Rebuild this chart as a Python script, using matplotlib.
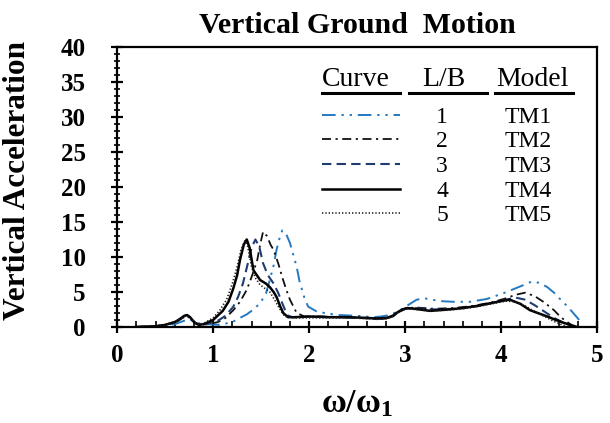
import matplotlib
matplotlib.use("Agg")
import matplotlib.pyplot as plt
from matplotlib.ticker import MultipleLocator

plt.rcParams['font.family'] = ['Liberation Serif', 'DejaVu Serif']
plt.rcParams['mathtext.fontset'] = 'custom'
plt.rcParams['mathtext.bf'] = 'Liberation Serif:bold'
plt.rcParams['mathtext.rm'] = 'Liberation Serif'

# curve data
x_tm1 = [0.2, 0.4, 0.5, 0.6, 0.7, 0.75, 0.8, 0.86, 0.95, 1.07, 1.2, 1.28, 1.35, 1.42, 1.49, 1.55, 1.59,
         1.63, 1.66, 1.69, 1.72, 1.76, 1.8, 1.87, 1.9, 1.95, 1.99, 2.08, 2.2, 2.32, 2.5, 2.67, 2.75,
         2.84, 2.95, 3.05, 3.12, 3.2, 3.28, 3.36, 3.5, 3.68, 3.85, 4.02, 4.2, 4.32, 4.4, 4.48, 4.55,
         4.62, 4.7, 4.75, 4.8, 4.85]
y_tm1 = [0.0, 0.1, 0.2, 0.4, 0.9, 1.1, 0.8, 0.5, 0.4, 0.3, 0.7, 1.3, 1.8, 2.5, 3.4, 4.8, 6.7,
         8.8, 11.0, 12.6, 13.8, 13.3, 12.0, 8.6, 6.5, 4.2, 2.9, 2.2, 1.9, 1.7, 1.6, 1.4, 1.5,
         1.7, 2.4, 3.3, 3.9, 4.1, 3.9, 3.7, 3.6, 3.6, 4.0, 4.8, 5.8, 6.5, 6.3, 5.7, 4.9,
         3.9, 2.8, 2.0, 1.2, 0.4]

x_tm2 = [0.2, 0.4, 0.5, 0.6, 0.66, 0.72, 0.77, 0.82, 0.88, 0.95, 1.05, 1.13, 1.21, 1.28, 1.35, 1.41,
         1.46, 1.49, 1.52, 1.56, 1.6, 1.63, 1.68, 1.72, 1.76, 1.8, 1.87, 1.95, 2.1, 2.3, 2.5, 2.7,
         2.8, 2.87, 2.93, 3.0, 3.1, 3.3, 3.5, 3.7, 3.9, 4.05, 4.15, 4.25, 4.35, 4.45, 4.55, 4.62,
         4.68, 4.73]
y_tm2 = [0.0, 0.1, 0.3, 0.6, 1.1, 1.6, 1.2, 0.5, 0.3, 0.4, 0.7, 1.3, 2.4, 3.6, 5.3, 7.5,
         9.6, 11.8, 13.6, 13.0, 11.7, 11.0, 9.0, 7.1, 5.4, 3.9, 2.0, 1.5, 1.5, 1.4, 1.3, 1.2,
         1.2, 1.5, 2.1, 2.6, 2.8, 2.6, 2.7, 3.0, 3.5, 4.1, 4.6, 4.9, 4.4, 3.5, 2.4, 1.4,
         0.8, 0.3]

x_tm3 = [0.2, 0.4, 0.5, 0.6, 0.66, 0.72, 0.77, 0.82, 0.88, 0.95, 1.05, 1.13, 1.21, 1.26, 1.31, 1.36,
         1.4, 1.44, 1.48, 1.52, 1.57, 1.63, 1.68, 1.72, 1.77, 1.82, 1.9, 2.1, 2.3, 2.5, 2.7, 2.8,
         2.87, 2.93, 3.0, 3.1, 3.3, 3.5, 3.7, 3.9, 4.05, 4.15, 4.25, 4.35, 4.45, 4.55, 4.65, 4.75]
y_tm3 = [0.0, 0.1, 0.3, 0.7, 1.2, 1.7, 1.2, 0.5, 0.3, 0.5, 0.9, 1.6, 2.9, 4.3, 6.2, 9.0,
         11.3, 12.5, 11.5, 9.1, 7.4, 6.2, 4.8, 3.4, 1.7, 1.4, 1.4, 1.5, 1.4, 1.3, 1.2, 1.2,
         1.5, 2.1, 2.6, 2.7, 2.5, 2.6, 2.9, 3.4, 3.9, 4.2, 3.9, 3.1, 2.2, 1.3, 0.6, 0.1]

x_tm4 = [0.2, 0.4, 0.5, 0.6, 0.65, 0.7, 0.73, 0.76, 0.8, 0.85, 0.9, 1.0, 1.1, 1.16, 1.21, 1.25,
         1.28, 1.32, 1.35, 1.38, 1.42, 1.49, 1.55, 1.59, 1.63, 1.66, 1.7, 1.73, 1.78, 1.85, 2.0,
         2.2, 2.4, 2.6, 2.7, 2.81, 2.87, 2.92, 2.97, 3.02, 3.1, 3.26, 3.45, 3.6, 3.75, 3.89, 4.0,
         4.09, 4.2, 4.3, 4.4, 4.48, 4.57, 4.65, 4.72, 4.79]
y_tm4 = [0.0, 0.1, 0.3, 0.7, 1.1, 1.6, 1.7, 1.4, 0.7, 0.3, 0.4, 1.0, 2.3, 3.6, 5.5, 7.4,
         9.6, 11.8, 12.5, 11.3, 8.1, 6.7, 6.2, 5.7, 5.0, 4.3, 2.9, 2.0, 1.4, 1.4, 1.5,
         1.4, 1.4, 1.3, 1.2, 1.3, 1.6, 2.1, 2.5, 2.7, 2.6, 2.3, 2.5, 2.7, 3.0, 3.4, 3.7,
         3.9, 3.3, 2.4, 1.9, 1.5, 1.0, 0.6, 0.3, 0.0]

x_tm5 = [0.2, 0.4, 0.5, 0.6, 0.65, 0.7, 0.73, 0.76, 0.8, 0.85, 0.9, 1.0, 1.07, 1.14, 1.2, 1.25,
         1.29, 1.33, 1.36, 1.4, 1.44, 1.49, 1.54, 1.59, 1.64, 1.68, 1.72, 1.75, 1.85, 2.0, 2.2,
         2.4, 2.6, 2.7, 2.8, 2.87, 2.92, 2.97, 3.02, 3.1, 3.26, 3.45, 3.6, 3.75, 3.9, 4.05, 4.15,
         4.25, 4.35, 4.45, 4.55, 4.62, 4.7]
y_tm5 = [0.0, 0.1, 0.3, 0.7, 1.1, 1.5, 1.6, 1.3, 0.7, 0.4, 0.5, 1.3, 2.4, 3.9, 6.2, 8.6,
         11.0, 12.3, 11.5, 8.6, 7.0, 6.0, 5.5, 5.0, 3.9, 2.9, 2.0, 1.5, 1.3, 1.3, 1.3,
         1.3, 1.2, 1.1, 1.2, 1.5, 2.0, 2.4, 2.6, 2.5, 2.3, 2.4, 2.6, 2.9, 3.3, 3.7, 3.6,
         3.0, 2.2, 1.5, 0.8, 0.4, 0.0]

lb_values = ['1', '2', '3', '4', '5']
models = ['TM1', 'TM2', 'TM3', 'TM4', 'TM5']

styles = [
    dict(color='#2479c1', lw=1.4, ls=(0, (7, 3, 1.2, 3, 1.2, 3))),
    dict(color='#111111', lw=1.3, ls=(0, (5, 2.5, 1.2, 2.5))),
    dict(color='#1f3c73', lw=1.5, ls=(0, (4.5, 2.5))),
    dict(color='#000000', lw=1.8, ls='-'),
    dict(color='#222222', lw=1.2, ls=(0, (0.8, 1.2))),
]
xs = [x_tm1, x_tm2, x_tm3, x_tm4, x_tm5]
ys = [y_tm1, y_tm2, y_tm3, y_tm4, y_tm5]

fig = plt.figure(figsize=(6.1, 4.23), dpi=100)
ax = fig.add_axes([0.192, 0.227, 0.787, 0.662])

for x, y, st in zip(xs, ys, styles):
    ax.plot(x, y, **st)

ax.set_xlim(0, 5)
ax.set_ylim(0, 40)
ax.xaxis.set_major_locator(MultipleLocator(1))
ax.xaxis.set_minor_locator(MultipleLocator(0.2))
ax.yaxis.set_major_locator(MultipleLocator(5))
ax.yaxis.set_minor_locator(MultipleLocator(1))
ax.tick_params(axis='x', which='major', direction='inout', length=9, width=1.6, pad=8)
ax.tick_params(axis='x', which='minor', direction='in', length=4, width=1.2)
ax.tick_params(axis='y', which='major', direction='inout', length=9, width=1.6, pad=18)
ax.tick_params(axis='y', which='minor', direction='inout', length=5, width=1.2)
for lab in ax.get_xticklabels() + ax.get_yticklabels():
    lab.set_fontweight('bold')
    lab.set_fontsize(18)
for s in ax.spines.values():
    s.set_linewidth(1.6)

ax.set_title('Vertical Ground  Motion', fontsize=21.5, fontweight='bold', pad=10)
ax.set_ylabel('Vertical Acceleration', fontsize=22.5, fontweight='bold')
ax.yaxis.set_label_coords(-0.178, 0.525)
ax.set_xlabel(r'$\mathbf{\omega/\omega_1}$', fontsize=24.5, labelpad=15)

# legend table
ta = ax.transAxes
heads = [('Curve', 0.498, 0.427, 0.590), ('L/B', 0.681, 0.608, 0.771), ('Model', 0.865, 0.7875, 0.95)]
for txt, cx, x0, x1 in heads:
    ax.text(cx, 0.882, txt, transform=ta, ha='center', va='center', fontsize=20)
    ax.plot([x0, x1], [0.836, 0.836], transform=ta, color='black', lw=2.2)
row_y = [0.748, 0.661, 0.573, 0.484, 0.398]
for i in range(5):
    ax.plot([0.427, 0.590], [row_y[i] + 0.01, row_y[i] + 0.01], transform=ta, **styles[i])
    ax.text(0.677, row_y[i], lb_values[i], transform=ta, ha='center', va='center', fontsize=17)
    ax.text(0.856, row_y[i], models[i], transform=ta, ha='center', va='center', fontsize=17)

fig.savefig('out.png', dpi=100)
